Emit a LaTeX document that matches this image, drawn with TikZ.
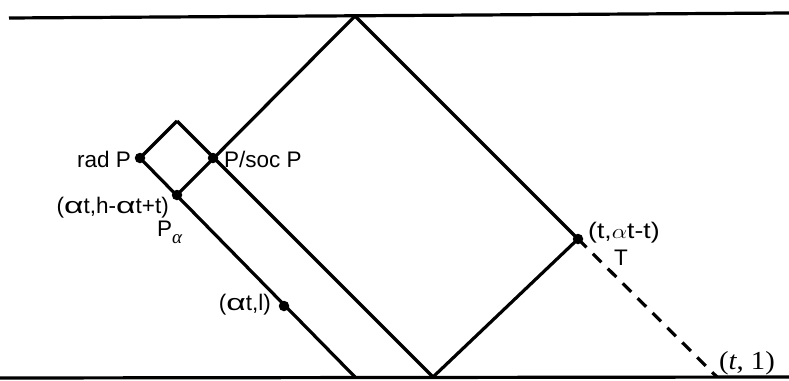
\documentclass[tikz,border=0pt]{standalone}
\usepackage{fontspec}
\setmainfont{Liberation Sans}
\newfontfamily\serifp{Liberation Serif}
\newcommand{\wa}{\scalebox{1.5}[1]{α}}
\begin{document}
\begin{tikzpicture}[x=1pt,y=-1pt,
  ln/.style={line width=3.2pt},
  dot/.style={circle,fill=black,inner sep=0pt,minimum size=10.5pt},
  lab/.style={inner sep=0pt,font=\fontsize{22.5}{25}\selectfont}]
\useasboundingbox (0,0) rectangle (789,380);
% key points
\coordinate (apex) at (355,16);
\coordinate (psoc) at (213,158);
\coordinate (rightv) at (578,239);
\coordinate (bottomR) at (433,377);
\coordinate (radP) at (140,158);
\coordinate (topS) at (177,121);
\coordinate (palpha) at (177,195);
\coordinate (bottomL) at (355,377);
\coordinate (alphal) at (284,306);
\coordinate (t1) at (717,377);
\coordinate (tl) at (9,18);
\coordinate (tr) at (789,13);
\coordinate (bl) at (0,378);
\coordinate (br) at (789,377);
% horizontal lines
\draw[ln] (tl) -- (tr);
\draw[ln] (bl) -- (br);
% diagram
\draw[ln] (apex) -- (palpha);
\draw[ln] (topS) -- (bottomR);
\draw[ln] (topS) -- (radP) -- (bottomL);
\draw[ln] (apex) -- (rightv) -- (bottomR);
\draw[ln,dash pattern=on 12pt off 9pt] (rightv) -- (t1);
% dots
\foreach \p in {radP,psoc,palpha,alphal,rightv} \node[dot] (d\p) at (\p) {};
% labels
\node[lab,anchor=east] (lradP) at (131,159) {rad P};
\node[lab,anchor=west] (lpsoc) at (224,159) {P/soc P};
\node[lab,anchor=east] (lpa) at (169,208) {(\wa t,h-\wa t+t)};
\node[lab,anchor=west] (lPa) at (157,232) {P\raisebox{-7pt}{\serifp\itshape\fontsize{19}{19}\selectfont α}};
\node[lab,anchor=east] (lal) at (271,305) {(\wa t,l)};
\node[lab,anchor=west] (ltat) at (588,233) {\scalebox{1.18}[1]{(t,$\alpha$t-t)}};
\node[lab] (lT) at (621,258) {T};
\node[inner sep=0pt,anchor=west,font=\serifp\fontsize{26}{30}\selectfont] (lt1) at (719,363) {\scalebox{1.1}[1]{(\textit{t}, 1)}};
\end{tikzpicture}
\end{document}
